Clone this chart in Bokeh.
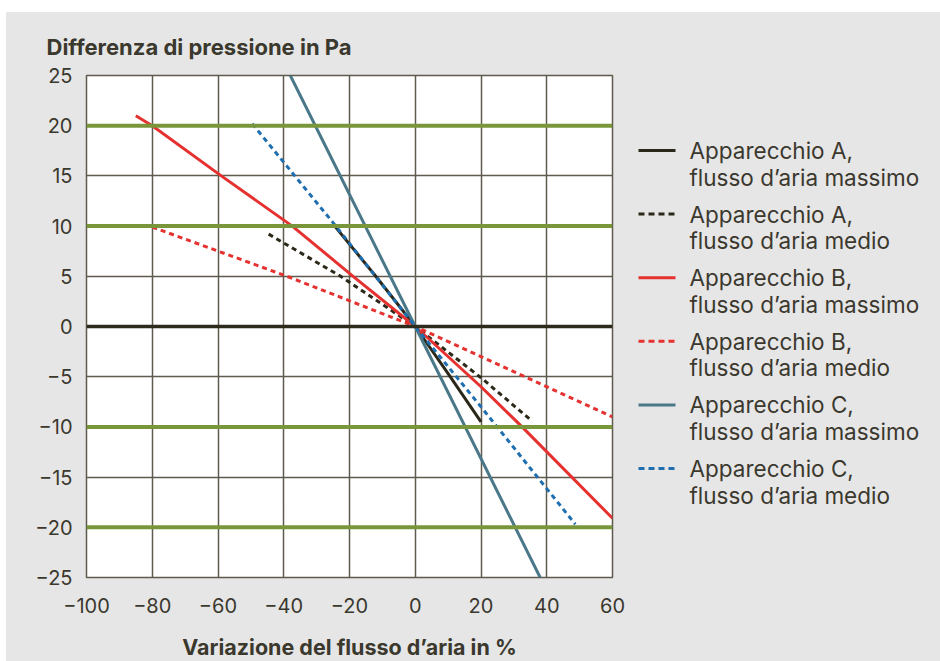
from bokeh.plotting import figure
from bokeh.models import Span, FixedTicker, Range1d, Spacer
from bokeh.layouts import row, column
from bokeh.core.properties import value
from bokeh.embed import file_html
from bokeh.resources import INLINE

# ---- data ----
a_max_x = [-25, -12, 0, 10, 20]
a_max_y = [10.2, 5.0, 0, -4.7, -9.5]
a_med_x = [-44.6, -22.7, 0, 20, 35.1]
a_med_y = [9.2, 5.0, 0, -5.1, -9.3]
b_max_x = [-85, -80, -59, -37.4, -18.9, 0, 20, 32.5, 60]
b_max_y = [21.0, 20.0, 15.0, 10.0, 5.0, 0, -6.0, -10.0, -19.1]
b_med_x = [-80, -39, 0, 20, 60]
b_med_y = [9.9, 5.0, 0, -3.0, -9.0]
c_max_x = [-38, 0, 38]
c_max_y = [25, 0, -25]
c_med_x = [-49.6, -24.9, 0, 20, 48.7]
c_med_y = [20.2, 10.3, 0, -8.0, -19.7]

label_line1 = ["Apparecchio A,", "Apparecchio A,", "Apparecchio B,",
               "Apparecchio B,", "Apparecchio C,", "Apparecchio C,"]
label_line2 = ["flusso d\u2019aria massimo", "flusso d\u2019aria medio",
               "flusso d\u2019aria massimo", "flusso d\u2019aria medio",
               "flusso d\u2019aria massimo", "flusso d\u2019aria medio"]
x_ticks = [-100, -80, -60, -40, -20, 0, 20, 40, 60]
y_ticks = [-25, -20, -15, -10, -5, 0, 5, 10, 15, 20, 25]
green_levels = [-20, -10, 10, 20]
zero_level = 0
x_title = "Variazione del flusso d\u2019aria in %"
y_title = "Differenza di pressione in Pa"

# ---- styles ----
FONT = "Inter"
TXT = "#3b382e"
BG = "#e6e6e6"
GRID = "#5e5a4e"
BLACK = "#2b2819"
RED = "#e5312f"
TEAL = "#4a7889"
BLUE = "#1f6fb0"
GREEN = "#7a963a"
DASH = "5 4"
series = [
    (a_max_x, a_max_y, BLACK, "solid"),
    (a_med_x, a_med_y, BLACK, DASH),
    (b_max_x, b_max_y, RED, "solid"),
    (b_med_x, b_med_y, RED, DASH),
    (c_max_x, c_max_y, TEAL, "solid"),
    (c_med_x, c_med_y, BLUE, DASH),
]

p = figure(frame_width=526, frame_height=502, x_range=(-100, 60), y_range=(-25, 25),
           output_backend="svg", toolbar_location=None,
           min_border_left=80, min_border_top=63, min_border_right=21, min_border_bottom=84,
           title=y_title)
p.background_fill_color = "white"
p.border_fill_color = BG
p.outline_line_color = GRID
p.outline_line_width = 1.5

p.title.align = "left"
p.title.offset = -40
p.title.standoff = 32
p.title.text_font = FONT
p.title.text_font_size = "22px"
p.title.text_font_style = "bold"
p.title.text_color = TXT

p.xaxis.ticker = FixedTicker(ticks=x_ticks)
p.yaxis.ticker = FixedTicker(ticks=y_ticks)
p.xgrid.ticker = FixedTicker(ticks=x_ticks)
p.ygrid.ticker = FixedTicker(ticks=y_ticks)
for g in (p.xgrid, p.ygrid):
    g.grid_line_color = GRID
    g.grid_line_width = 1.5
    g.grid_line_alpha = 1.0

p.xaxis.major_label_overrides = {t: str(t).replace("-", "\u2212") for t in x_ticks}
p.yaxis.major_label_overrides = {t: str(t).replace("-", "\u2212") for t in y_ticks}

for ax in (p.xaxis, p.yaxis):
    ax.axis_line_color = None
    ax.major_tick_line_color = None
    ax.minor_tick_line_color = None
    ax.major_label_text_font = FONT
    ax.major_label_text_font_size = "20px"
    ax.major_label_text_color = TXT
    ax.axis_label_text_font = FONT
    ax.axis_label_text_font_size = "21.5px"
    ax.axis_label_text_font_style = "bold"
    ax.axis_label_text_color = TXT
p.xaxis.major_label_standoff = 14
p.yaxis.major_label_standoff = 8
p.xaxis.axis_label = x_title
p.xaxis.axis_label_standoff = 18

for lv in green_levels:
    p.add_layout(Span(location=lv, dimension="width", line_color=GREEN, line_width=4))
p.add_layout(Span(location=zero_level, dimension="width", line_color="#2e2a1c", line_width=3.5))

for xs, ys, col, dash in series:
    p.line(xs, ys, line_color=col, line_width=3, line_dash=dash)

# ---- legend panel: a second canvas whose frame is aligned with the plot frame ----
lg = figure(frame_width=307, frame_height=502, x_range=Range1d(633, 940), y_range=Range1d(577, 75),
            output_backend="svg", toolbar_location=None,
            min_border_left=0, min_border_right=0, min_border_top=63, min_border_bottom=84)
lg.axis.visible = False
lg.grid.visible = False
lg.outline_line_color = None
lg.background_fill_color = BG
lg.border_fill_color = BG

LEG_TOP, LEG_PITCH, LEG_LINE = 150, 63.6, 26.6
for i, (_, _, col, dash) in enumerate(series):
    yy = LEG_TOP + i * LEG_PITCH
    lg.segment(x0=[638], y0=[yy], x1=[675], y1=[yy], line_color=col, line_width=3,
               line_dash=("6 4" if dash != "solid" else "solid"))
lg.text(x=[689] * 6, y=[LEG_TOP + i * LEG_PITCH for i in range(6)], text=label_line1,
        text_font=value(FONT), text_font_size="22.5px", text_color=TXT,
        text_baseline="middle", text_align="left")
lg.text(x=[689] * 6, y=[LEG_TOP + i * LEG_PITCH + LEG_LINE for i in range(6)], text=label_line2,
        text_font=value(FONT), text_font_size="22.5px", text_color=TXT,
        text_baseline="middle", text_align="left")

inner = row(p, lg, spacing=0, styles={"background-color": BG})
layout = column(Spacer(height=12), row(Spacer(width=6), inner, spacing=0), spacing=0)

open("out.html", "w").write(file_html(layout, INLINE))
